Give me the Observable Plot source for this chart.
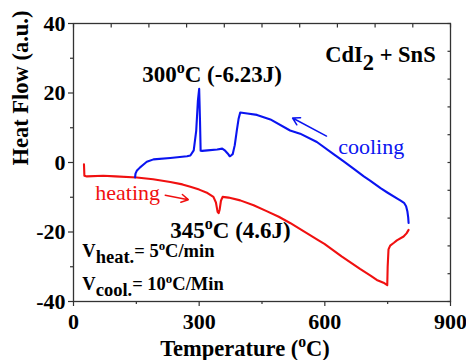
<!DOCTYPE html>
<html><head><meta charset="utf-8">
<script src="https://cdn.jsdelivr.net/npm/d3@7"></script>
<script src="https://cdn.jsdelivr.net/npm/@observablehq/plot@0.6"></script>
<style>body{margin:0;background:#fff} #chart svg text{font-family:'Liberation Serif','Times New Roman',serif !important}</style>
</head><body><div id="chart"></div>
<script>
// Heating curve (temperature °C, heat flow a.u.)
const heatT = [25, 26, 32, 71, 100, 151, 190, 231, 260, 279, 300, 320, 334, 340, 344, 346.5, 349, 352, 356, 370, 398, 430, 461, 490, 517, 550, 585, 599, 640, 684, 710, 724, 740, 749, 750, 752, 756, 765, 772, 788, 795, 800];
const heatV = [-0.5, -3.8, -4.0, -3.8, -4.0, -4.3, -4.8, -5.6, -6.3, -7.0, -7.8, -8.8, -9.9, -11.5, -14.2, -14.6, -13.5, -11.0, -9.9, -10.1, -10.9, -12.3, -14.0, -15.6, -17.4, -19.8, -22.4, -23.4, -27.0, -30.6, -32.6, -33.8, -34.6, -35.3, -30.0, -25.0, -23.9, -23.1, -22.4, -21.3, -20.4, -19.4];
// Cooling curve (from 800 °C down)
const coolT = [800, 799, 797, 794, 789, 781, 773, 750, 733, 708, 693, 670, 645, 620, 581, 541, 517, 470, 438, 415, 398, 394, 390, 385, 380, 376, 373, 368, 362, 355, 343, 320, 307, 303.5, 302, 300, 297, 293, 287, 279, 271, 231, 191, 175, 165, 159, 151, 148, 147];
const coolV = [-17.4, -15.8, -14.0, -12.6, -11.6, -11.0, -10.4, -8.7, -7.4, -5.2, -4.0, -1.9, 0.3, 2.5, 5.9, 8.3, 9.2, 12.4, 13.7, 14.1, 14.4, 12.5, 9.3, 5.0, 2.4, 2.0, 1.8, 2.6, 3.4, 4.0, 3.75, 3.5, 3.35, 3.4, 12, 21.2, 17.8, 9.2, 3.5, 2.0, 1.8, 1.3, 0.9, 0.2, -0.8, -1.4, -2.4, -3.2, -4.3];

const xTicks = [0, 300, 600, 900];
const xMinor = [150, 450, 750];
const yTicks = [-40, -20, 0, 20, 40];
const yMinor = [-30, -10, 10, 30];
const topTicks = d3.range(0, 901, 90);
const rightTicks = d3.range(-40, 41, 8);

const xLabel = "Temperature (^{o}C)";
const yLabel = "Heat Flow (a.u.)";
const title = "CdI_{2} + SnS";
const peakCool = "300^{o}C (-6.23J)";
const peakHeat = "345^{o}C (4.6J)";
const coolLabel = "cooling";
const heatLabel = "heating";
const rateHeat = "V_{heat.}= 5^{o}C/min";
const rateCool = "V_{cool.}= 10^{o}C/Min";

const heat = heatT.map((t, i) => ({t, v: heatV[i]}));
const cool = coolT.map((t, i) => ({t, v: coolV[i]}));

const blue = "#0a14f0", red = "#f01010";
const FONT = "'Liberation Serif', 'Times New Roman', serif";
const tickProps = {stroke: "#333", strokeWidth: 1.2};
const labelProps = {fontFamily: FONT, fontWeight: "bold", fontSize: 22, fill: "#000", tickFormat: d => String(d)};

const plot = Plot.plot({
  width: 466, height: 360,
  marginLeft: 73, marginRight: 16, marginTop: 23, marginBottom: 59,
  style: {fontFamily: FONT, fontSize: "22px", fontWeight: "bold", background: "#fff", color: "#000", overflow: "visible"},
  x: {domain: [0, 900]},
  y: {domain: [-40, 40]},
  marks: [
    Plot.axisX({ticks: xMinor, tickSize: 3, tickFormat: () => "", label: null, ...tickProps}),
    Plot.axisX({ticks: xTicks, tickSize: 5, tickPadding: 7, label: null, ...tickProps, ...labelProps}),
    Plot.axisX({anchor: "top", ticks: topTicks, tickSize: 3.5, dy: 3.5, tickFormat: () => "", label: null, ...tickProps}),
    Plot.axisY({ticks: yMinor, tickSize: 3, tickFormat: () => "", label: null, ...tickProps}),
    Plot.axisY({ticks: yTicks, tickSize: 5, tickPadding: 3, label: null, ...tickProps, ...labelProps}),
    Plot.axisY({anchor: "right", ticks: rightTicks, tickSize: 3.5, dx: -3.5, tickFormat: () => "", label: null, ...tickProps}),
    Plot.frame({stroke: "#333", strokeWidth: 1.3}),
    Plot.line(heat, {x: "t", y: "v", stroke: red, strokeWidth: 2.1}),
    Plot.line(cool, {x: "t", y: "v", stroke: blue, strokeWidth: 2.1}),
    Plot.arrow([{x1: 604, y1: 7.6, x2: 523, y2: 12.8}], {x1: "x1", y1: "y1", x2: "x2", y2: "y2", stroke: blue, strokeWidth: 1.5, headLength: 8}),
    Plot.arrow([{x1: 219, y1: -9.4, x2: 274, y2: -10.7}], {x1: "x1", y1: "y1", x2: "x2", y2: "y2", stroke: red, strokeWidth: 1.5, headLength: 8}),
    Plot.text([peakCool], {x: 164, y: 23.1, text: d => d, textAnchor: "start", lineAnchor: "bottom", fill: "#000", fontSize: 23}),
    Plot.text([title], {x: 601, y: 28.9, text: d => d, textAnchor: "start", lineAnchor: "bottom", fill: "#000", fontSize: 22.5}),
    Plot.text([coolLabel], {x: 632, y: 2.5, text: d => d, textAnchor: "start", lineAnchor: "bottom", fill: blue, fontWeight: "normal", fontSize: 22}),
    Plot.text([heatLabel], {x: 52, y: -10.9, text: d => d, textAnchor: "start", lineAnchor: "bottom", fill: red, fontWeight: "normal", fontSize: 22}),
    Plot.text([peakHeat], {x: 231, y: -21.7, text: d => d, textAnchor: "start", lineAnchor: "bottom", fill: "#000", fontSize: 23}),
    Plot.text([rateHeat], {x: 21, y: -27.3, text: d => d, textAnchor: "start", lineAnchor: "bottom", fill: "#000", fontSize: 18.5}),
    Plot.text([rateCool], {x: 21, y: -36.7, text: d => d, textAnchor: "start", lineAnchor: "bottom", fill: "#000", fontSize: 18.5}),
    Plot.text([xLabel], {frameAnchor: "bottom", text: d => d, lineAnchor: "bottom", dy: 54, dx: -17, fill: "#000", fontSize: 22.5}),
    Plot.text([yLabel], {frameAnchor: "left", text: d => d, lineAnchor: "middle", rotate: -90, dx: -53, dy: 3, fill: "#000", fontSize: 22.5})
  ]
});
document.getElementById("chart").appendChild(plot);

// Turn ^{..} and _{..} markers into superscript / subscript tspans
plot.querySelectorAll("text").forEach(el => {
  const s = el.textContent;
  if (!/[\^_]\{/.test(s)) return;
  const fs = parseFloat(getComputedStyle(el).fontSize);
  const parts = s.split(/([\^_]\{[^}]*\})/).filter(p => p !== "");
  el.textContent = "";
  let shift = 0;
  const NS = "http://www.w3.org/2000/svg";
  parts.forEach(p => {
    const t = document.createElementNS(NS, "tspan");
    let target = 0;
    if (p.startsWith("^{")) {
      t.textContent = p.slice(2, -1);
      t.setAttribute("font-size", (fs * 0.7) + "px");
      target = -fs * 0.38;
    } else if (p.startsWith("_{")) {
      t.textContent = p.slice(2, -1);
      target = fs * 0.33;
    } else {
      t.textContent = p;
    }
    if (target !== shift) { t.setAttribute("dy", (target - shift) + "px"); shift = target; }
    el.appendChild(t);
  });
});
</script>
</body></html>
